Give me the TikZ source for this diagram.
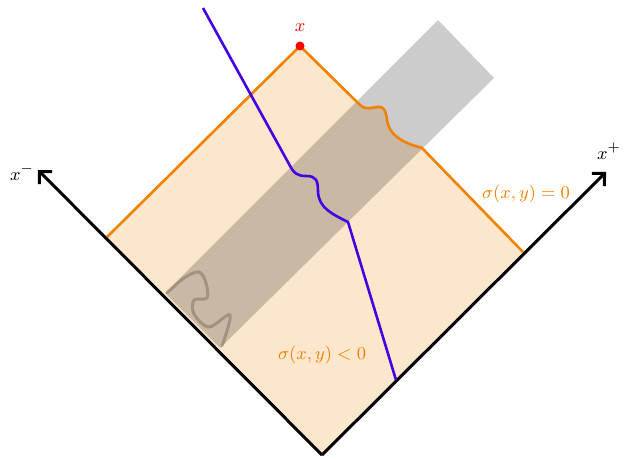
\documentclass[tikz,border=0pt]{standalone}
\usepackage{amsmath,amssymb}
\usepackage{tikz}
\usetikzlibrary{arrows.meta,calc}
\usepackage{xcolor}
\definecolor{sigorange}{RGB}{240,130,0}
\definecolor{worldline}{RGB}{68,0,226}
\definecolor{pointred}{RGB}{255,0,0}

\begin{document}
\begin{tikzpicture}[x=0.5pt, y=-0.5pt, every node/.style={font=\fontsize{9.3}{11}\selectfont}]
  \useasboundingbox (0,0) rectangle (626,460);
  \coordinate (O) at (322,455);
  \coordinate (L) at (107,237);
  \coordinate (T) at (300,46);
  \coordinate (R) at (523,252);
  \coordinate (W1) at (360,105);
  \coordinate (W2) at (422,148);
  \fill[sigorange!20] (O) -- (L) -- (T) -- (W1)
    .. controls (365,110) and (370,108) .. (377,107)
    .. controls (385,106) and (386,112) .. (387,120)
    .. controls (389,134) and (400,142) .. (W2) -- (R) -- cycle;
  \fill[black, opacity=0.2] (165,293) -- (438,20) -- (494,78) -- (220,348) -- cycle;
  \draw[line width=1.3pt, sigorange, line join=round] (L) -- (T) -- (W1)
    .. controls (365,110) and (370,108) .. (377,107)
    .. controls (385,106) and (386,112) .. (387,120)
    .. controls (389,134) and (400,142) .. (W2) -- (R);
  \draw[line width=1.5pt, black, opacity=0.2, line cap=round] plot[smooth, tension=0.55] coordinates
    {(167,293) (184,278) (199,272) (206,283) (207,298) (194,300) (194,314) (209,327) (230,315) (222,346)};
  \draw[line width=1.5pt, -{Straight Barb[length=4.5pt,width=9pt]}] (O) -- (38,170);
  \draw[line width=1.5pt, -{Straight Barb[length=4.5pt,width=9pt]}] (O) -- (606,172);
  \draw[line width=1.3pt, worldline, line join=round] (203,8) -- (289,164)
    .. controls (294,174) and (298,176) .. (306,176)
    .. controls (316,176) and (318,180) .. (318,192)
    .. controls (319,208) and (332,214) .. (348,222) -- (396,380);
  \fill[pointred] (T) circle (4.5);
  \node[pointred] at (300,28) {$x$};
  \node at (22,172) {$x^-$};
  \node at (609,151) {$x^+$};
  \node[sigorange] at (526,194) {$\sigma(x,y)=0$};
  \node[sigorange] at (322,355) {$\sigma(x,y)<0$};
\end{tikzpicture}
\end{document}
